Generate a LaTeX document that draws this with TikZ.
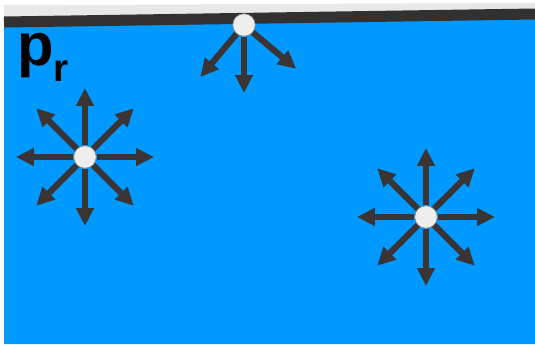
\documentclass[tikz,border=0pt]{standalone}
\usepackage{fontspec}
\setmainfont{Liberation Sans}
\usepackage{tikz}
\usetikzlibrary{positioning,arrows.meta,calc}
\definecolor{Water}{RGB}{0,153,255}
\definecolor{Surface}{RGB}{50,48,48}
\definecolor{Air}{RGB}{232,232,232}
\definecolor{Arrow}{RGB}{58,52,52}
\definecolor{Particle}{RGB}{238,238,236}

\begin{document}
\begin{tikzpicture}[
  x=0.02cm, y=0.02cm,
  particle/.style={
    circle, draw=Arrow!60, thin, fill=Particle, inner sep=0pt, minimum size=0.45cm
  },
  force/.style={-{Triangle[length=0.36cm,width=0.34cm]}, line width=3.5pt, draw=Arrow}
]
\useasboundingbox (0,0) rectangle (535,346);

% Liquid, air above it and the surface
\fill[Air] (4,324) -- (535,332) -- (535,343) -- (4,341) -- cycle;
\fill[Water] (4,2) -- (535,2) -- (535,332) -- (4,324) -- cycle;
\draw[Surface, line width=0.22cm] (4,324) -- (535,332);

% Label
\node[anchor=base west, inner sep=0pt, font=\bfseries\fontsize{34}{34}\selectfont] (lblPr) at (17,281)
  {p\raisebox{-0.33cm}{\fontsize{22}{22}\selectfont r}};

% Particles
\node[particle] (pTop) at (244,321) {};
\node[particle] (pLeft) at (85,189) {};
\node[particle] (pRight) at (426,129) {};

% Forces on the surface particle
\foreach \a/\n in {-130/dl, -90/d, -40/dr} {
  \coordinate (pTop-\n) at ($(pTop)+(\a:68)$);
  \draw[force] (pTop) -- (pTop-\n);
}

% Forces on the inner particles
\foreach \p in {pLeft, pRight} {
  \foreach \a in {0,45,...,315} {
    \coordinate (\p-\a) at ($(\p)+(\a:69)$);
    \draw[force] (\p) -- (\p-\a);
  }
}

\end{tikzpicture}
\end{document}
